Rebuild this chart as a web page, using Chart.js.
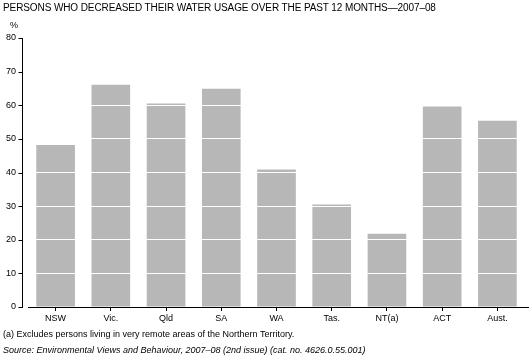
<!DOCTYPE html>
<html>
<head>
<meta charset="utf-8">
<script src="https://cdn.jsdelivr.net/npm/chart.js@4.4.1/dist/chart.umd.min.js"></script>
<style>
  html, body { margin: 0; padding: 0; background: #fff; }
  #wrap { position: relative; width: 529px; height: 363px; overflow: hidden; }
  canvas { position: absolute; left: 0; top: 0; }
  .txt { position: absolute; left: 3px; white-space: nowrap; color: #000; font-family: "Liberation Sans", Arial, sans-serif; }
  #title { top: 2px; font-size: 10px; letter-spacing: -0.1px; }
  #unit { left: 10px; top: 20px; font-size: 9px; }
  #note { top: 329px; font-size: 9px; }
  #src { top: 345px; font-size: 9px; font-style: italic; }
</style>
</head>
<body>
<div id="wrap">
  <canvas id="c" width="529" height="363"></canvas>
  <div class="txt" id="title">PERSONS WHO DECREASED THEIR WATER USAGE OVER THE PAST 12 MONTHS—2007–08</div>
  <div class="txt" id="unit">%</div>
  <div class="txt" id="note">(a) Excludes persons living in very remote areas of the Northern Territory.</div>
  <div class="txt" id="src">Source: Environmental Views and Behaviour, 2007–08 (2nd issue) (cat. no. 4626.0.55.001)</div>
</div>
<script>
const categories = ["NSW", "Vic.", "Qld", "SA", "WA", "Tas.", "NT(a)", "ACT", "Aust."];
const decreasedUsage = [48.2, 66.1, 60.5, 64.9, 40.9, 30.5, 21.8, 59.6, 55.4];
const yTicks = [0, 10, 20, 30, 40, 50, 60, 70, 80];

const axisPlugin = {
  id: 'customAxis',
  afterDraw(chart) {
    const ctx = chart.ctx;
    const y = chart.scales.y;
    const area = chart.chartArea;
    const ax = Math.round(area.left - 6) + 0.5;
    ctx.save();
    ctx.strokeStyle = '#000';
    ctx.lineWidth = 1;
    ctx.beginPath();
    ctx.moveTo(ax, Math.round(y.getPixelForValue(80)));
    ctx.lineTo(ax, Math.round(y.getPixelForValue(0)) + 1);
    yTicks.forEach(v => {
      const py = Math.round(y.getPixelForValue(v)) + 0.5;
      ctx.moveTo(ax - 4, py);
      ctx.lineTo(ax, py);
    });
    const by = Math.round(y.getPixelForValue(0)) + 0.5;
    ctx.moveTo(area.left, by);
    ctx.lineTo(chart.width, by);
    ctx.stroke();
    ctx.restore();
  }
};

new Chart(document.getElementById('c'), {
  type: 'bar',
  data: {
    labels: categories,
    datasets: [{
      data: decreasedUsage,
      backgroundColor: '#b7b7b7',
      borderWidth: 0,
      barPercentage: 0.7,
      categoryPercentage: 1.0
    }]
  },
  options: {
    responsive: false,
    animation: false,
    devicePixelRatio: 1,
    layout: { padding: { top: 38, left: 0, right: 4, bottom: 40 } },
    plugins: { legend: { display: false }, tooltip: { enabled: false }, title: { display: false } },
    scales: {
      x: {
        offset: true,
        border: { display: false },
        grid: { display: true, drawOnChartArea: false, offset: false, tickLength: 4, color: '#000', tickColor: '#000' },
        ticks: { color: '#000', padding: 2, font: { family: 'Liberation Sans', size: 9 }, maxRotation: 0 },
        afterFit(s) { s.height = 16; }
      },
      y: {
        min: 0, max: 80,
        border: { display: false },
        afterBuildTicks(s) { s.ticks = yTicks.map(v => ({ value: v })); },
        grid: {
          z: 1,
          color: (c) => (c.tick && (c.tick.value === 0 || c.tick.value === 80)) ? 'rgba(0,0,0,0)' : '#ffffff',
          lineWidth: 1,
          tickLength: 10,
          tickColor: 'rgba(0,0,0,0)'
        },
        ticks: { color: '#000', padding: 2, font: { family: 'Liberation Sans', size: 9 } },
        afterFit(s) { s.width = 28; }
      }
    }
  },
  plugins: [axisPlugin]
});
</script>
</body>
</html>
